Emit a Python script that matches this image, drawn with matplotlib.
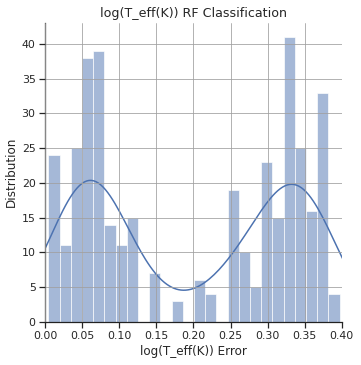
import numpy as np
import matplotlib
matplotlib.use("Agg")
import matplotlib.pyplot as plt
import seaborn as sns

# histogram counts (26 equal bins)
counts = [24, 11, 25, 38, 39, 14, 11, 15, 0, 7, 0, 3, 0,
          6, 4, 0, 19, 10, 5, 23, 15, 41, 25, 16, 33, 4]
bin_lo = 0.0044
bin_hi = 0.397

edges = np.linspace(bin_lo, bin_hi, len(counts) + 1)
centers = (edges[:-1] + edges[1:]) / 2
errors = np.repeat(centers, counts)

sns.set_theme(style="ticks")

fig = plt.figure(figsize=(361 / 72, 365 / 72), dpi=72)
ax = fig.add_axes([0.125, 0.118, 0.822, 0.82])

sns.histplot(x=errors, bins=edges, kde=True, ax=ax,
             kde_kws={"cut": 3, "bw_adjust": 1.05})
ax.set_axisbelow(False)
ax.grid(True, color="#a0a0a0", linewidth=0.8)
sns.despine(ax=ax)
for s in ax.spines.values():
    s.set_color("#222222")

ax.set_xlim(0, 0.4)
ax.set_xticks(np.arange(0, 0.401, 0.05))
ax.set_yticks(range(0, 41, 5))
ax.set_title("log(T_eff(K)) RF Classification", fontsize=12.6)
ax.set_xlabel("log(T_eff(K)) Error", fontsize=12)
ax.set_ylabel("Distribution", fontsize=12)

fig.savefig("out.png", dpi=72)
